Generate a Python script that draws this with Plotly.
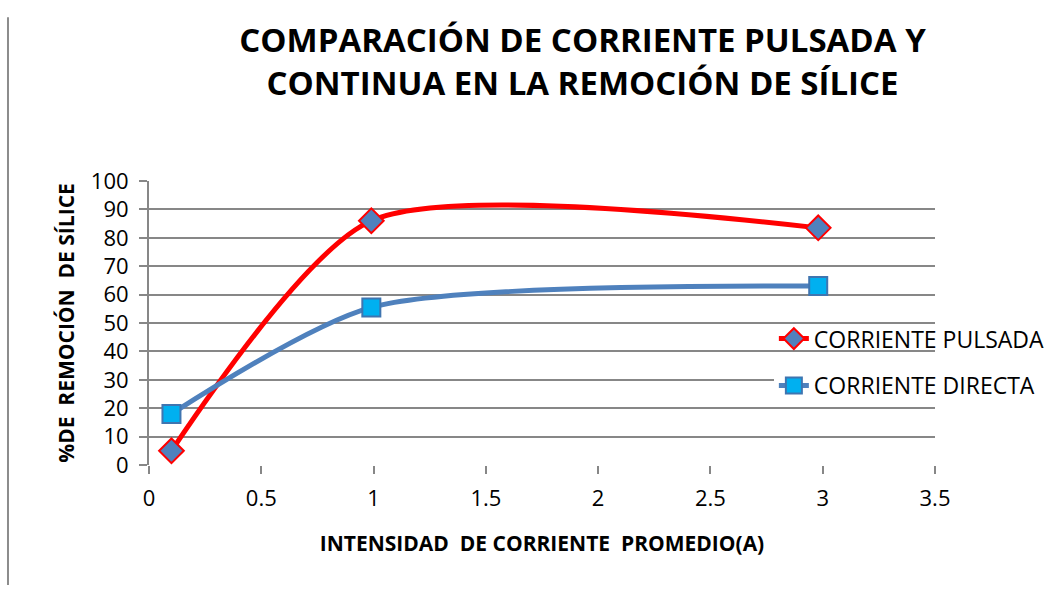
import plotly.graph_objects as go

# Silica removal (%) versus average current intensity (A)
corriente_a = [0.1, 0.99, 2.98]
pulsada_pct = [5, 86, 83.5]
directa_pct = [18, 55.5, 63]

x_ticks = [0, 0.5, 1, 1.5, 2, 2.5, 3, 3.5]
y_ticks = [0, 10, 20, 30, 40, 50, 60, 70, 80, 90, 100]

FONT = "Open Sans, Liberation Sans, sans-serif"
GRID = "#878787"

fig = go.Figure()

fig.add_trace(go.Scatter(
    x=corriente_a, y=pulsada_pct, name="CORRIENTE PULSADA",
    mode="lines+markers",
    line=dict(color="#FF0000", width=5, shape="spline", smoothing=0.7),
    marker=dict(symbol="diamond", size=19, color="#4F81BD",
                line=dict(color="#FF0000", width=2)),
    legend="legend",
))

fig.add_trace(go.Scatter(
    x=corriente_a, y=directa_pct, name="CORRIENTE DIRECTA",
    mode="lines+markers",
    line=dict(color="#4F81BD", width=5, shape="spline", smoothing=0.7),
    marker=dict(symbol="square", size=18, color="#00B0F0",
                line=dict(color="#3F75B0", width=2)),
    legend="legend2",
))

fig.update_layout(
    width=1063, height=590,
    margin=dict(l=149, r=128, t=181, b=125),
    paper_bgcolor="white", plot_bgcolor="white",
    showlegend=True,
    title=dict(
        text="COMPARACIÓN DE CORRIENTE PULSADA Y<br>CONTINUA EN LA REMOCIÓN DE SÍLICE",
        x=0.548, xanchor="center", yref="container", y=0.912, yanchor="middle",
        font=dict(family=FONT, size=33, color="black", weight="bold"),
    ),
    legend=dict(
        x=0.795, xanchor="left", y=0.445, yanchor="middle",
        bgcolor="rgba(0,0,0,0)", font=dict(family=FONT, size=23, color="black"),
    ),
    legend2=dict(
        x=0.795, xanchor="left", y=0.28, yanchor="middle",
        bgcolor="white", font=dict(family=FONT, size=23, color="black"),
    ),
    xaxis=dict(
        range=[0, 3.5], tickvals=x_ticks, ticktext=[f"{v:g}" for v in x_ticks],
        showgrid=False, zeroline=False, showline=False,
        ticks="outside", ticklen=8, tickwidth=2, tickcolor=GRID,
        ticklabelstandoff=6,
        tickfont=dict(family=FONT, size=22, color="black"),
        title=dict(text="INTENSIDAD&nbsp; DE CORRIENTE&nbsp; PROMEDIO(A)",
                   font=dict(family=FONT, size=21, color="black", weight="bold"),
                   standoff=24),
    ),
    yaxis=dict(
        range=[0, 100], tickvals=y_ticks,
        showgrid=True, gridcolor=GRID, gridwidth=2,
        zeroline=False, showline=True, linecolor=GRID, linewidth=2,
        ticks="outside", ticklen=8, tickwidth=2, tickcolor=GRID,
        ticklabelstandoff=6,
        tickfont=dict(family=FONT, size=22, color="black"),
        title=dict(text="%DE&nbsp; REMOCIÓN&nbsp; DE SÍLICE",
                   font=dict(family=FONT, size=21, color="black", weight="bold"),
                   standoff=10),
    ),
    shapes=[
        dict(type="line", xref="paper", yref="paper",
             x0=-0.1794, x1=-0.1794, y0=1.577, y1=-0.4225,
             line=dict(color="#8C8C8C", width=2)),
    ],
)

fig.write_html("out.html")
